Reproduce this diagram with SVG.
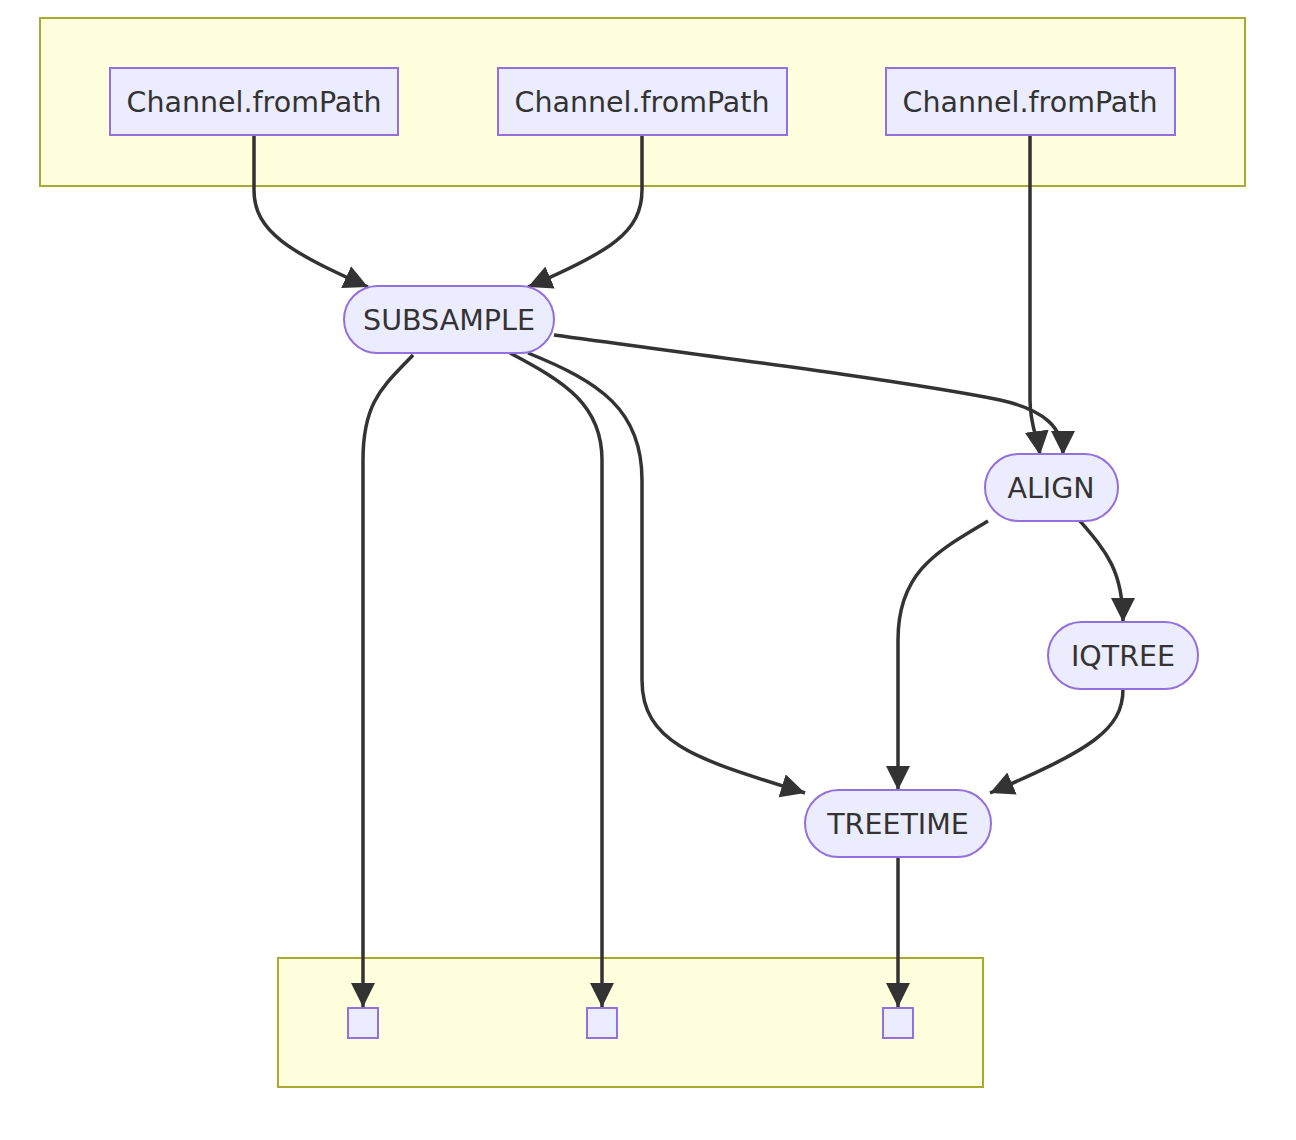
<svg xmlns="http://www.w3.org/2000/svg" width="1296" height="1140" viewBox="0 0 1296 1140">
<style>
.cluster{fill:#ffffde;stroke:#aaaa33;stroke-width:2}
.node{fill:#ECECFF;stroke:#9370DB;stroke-width:2}
.lbl{font-family:"DejaVu Sans","Liberation Sans",sans-serif;font-size:28.5px;fill:#333;text-anchor:middle;dominant-baseline:central}
.edge{fill:none;stroke:#333;stroke-width:3.5;marker-end:url(#arrow)}
</style>
<defs>
<marker id="arrow" viewBox="0 0 10 10" refX="10" refY="5" markerWidth="24" markerHeight="24" markerUnits="userSpaceOnUse" orient="auto">
<path d="M0,0 L10,5 L0,10 z" fill="#333"/>
</marker>
</defs>
<g id="cluster-top"><rect class="cluster" x="40" y="18" width="1205" height="168"/></g>
<g id="cluster-bottom"><rect class="cluster" x="278" y="958" width="705" height="129"/></g>
<g id="edges">
<path class="edge" d="M254,136 L254,190 C254,232 290,252 368,287"/>
<path class="edge" d="M642,136 L642,190 C642,232 610,252 528,287"/>
<path class="edge" d="M1030,136 L1030,400 C1030,425 1038,440 1040,455"/>
<path class="edge" d="M554,335 C700,355 900,380 1000,400 C1045,410 1063,428 1063,455"/>
<path class="edge" d="M413,355 C385,385 363,400 363,460 L363,1007"/>
<path class="edge" d="M510,353 C565,382 602,405 602,460 L602,1007"/>
<path class="edge" d="M528,353 C600,382 642,410 642,480 L642,680 C642,745 700,760 805,793"/>
<path class="edge" d="M988,521 C940,550 898,570 898,640 L898,790"/>
<path class="edge" d="M1080,521 C1105,550 1123,570 1123,622"/>
<path class="edge" d="M1123,689 C1123,730 1090,750 990,793"/>
<path class="edge" d="M898,857 L898,1007"/>
</g>
<g id="n-ch1"><rect class="node" x="110" y="68" width="288" height="67"/><text class="lbl" x="254" y="102">Channel.fromPath</text></g>
<g id="n-ch2"><rect class="node" x="498" y="68" width="289" height="67"/><text class="lbl" x="642" y="102">Channel.fromPath</text></g>
<g id="n-ch3"><rect class="node" x="886" y="68" width="289" height="67"/><text class="lbl" x="1030" y="102">Channel.fromPath</text></g>
<g id="n-subsample"><rect class="node" x="344" y="286" width="210" height="67" rx="33.5"/><text class="lbl" x="449" y="320">SUBSAMPLE</text></g>
<g id="n-align"><rect class="node" x="985" y="454" width="133" height="67" rx="33.5"/><text class="lbl" x="1051" y="488">ALIGN</text></g>
<g id="n-iqtree"><rect class="node" x="1048" y="622" width="150" height="67" rx="33.5"/><text class="lbl" x="1123" y="656">IQTREE</text></g>
<g id="n-treetime"><rect class="node" x="805" y="790" width="186" height="67" rx="33.5"/><text class="lbl" x="898" y="824">TREETIME</text></g>
<g id="n-out1"><rect class="node" x="348" y="1008" width="30" height="30"/></g>
<g id="n-out2"><rect class="node" x="587" y="1008" width="30" height="30"/></g>
<g id="n-out3"><rect class="node" x="883" y="1008" width="30" height="30"/></g>
</svg>
